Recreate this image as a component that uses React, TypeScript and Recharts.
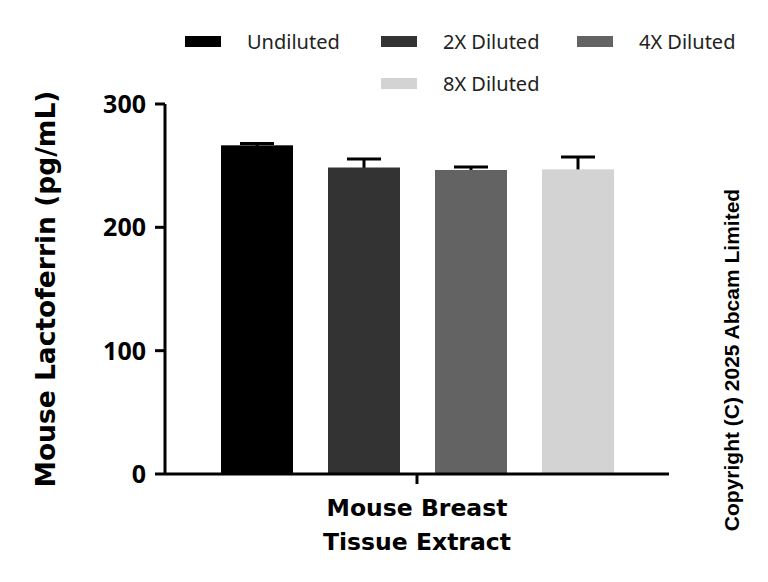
import { Bar, BarChart, XAxis, YAxis } from "recharts";

const categories = ["Mouse Breast Tissue Extract"];
const seriesNames = ["Undiluted", "2X Diluted", "4X Diluted", "8X Diluted"];
const seriesKeys = ["undiluted", "x2", "x4", "x8"];
const seriesColors = ["#000000", "#333333", "#636363", "#d3d3d3"];
const means = [266.5, 248.5, 246.5, 247];
const errors = [1.5, 7, 2.5, 10];
const yTicks = [0, 100, 200, 300];

const data = categories.map((name) => {
  const row: Record<string, string | number> = { name };
  seriesKeys.forEach((k, i) => {
    row[k] = means[i];
    row[k + "_err"] = errors[i];
  });
  return row;
});

const FONT = "'Noto Sans', sans-serif";
const BOLD = "'DejaVu Sans', sans-serif";

// bar plus an upward-only error bar, scaled from the bar's own height
function barWithError(key: string) {
  return (props: any) => {
    const { x, y, width, height, fill, payload, value } = props;
    const v = Array.isArray(value) ? value[1] - value[0] : value;
    const err = payload[key + "_err"];
    const top = y - (err * height) / v;
    const cx = x + width / 2;
    return (
      <g>
        <line x1={cx} x2={cx} y1={top} y2={y + 4} stroke="#000" strokeWidth={3} />
        <line x1={cx - 17} x2={cx + 17} y1={top} y2={top} stroke="#000" strokeWidth={3} />
        <rect x={x} y={y} width={width} height={height} fill={fill} />
      </g>
    );
  };
}

function XTick(props: any) {
  const { x, y, payload } = props;
  const words = String(payload.value).split(" ");
  const lines = [words.slice(0, 2).join(" "), words.slice(2).join(" ")];
  return (
    <text x={x} y={y} textAnchor="middle" fontFamily={BOLD} fontWeight="bold" fontSize={23.5} fill="#000">
      {lines.map((l, i) => (
        <tspan key={i} x={x} dy={i === 0 ? 30 : 34}>
          {l}
        </tspan>
      ))}
    </text>
  );
}

function ChartLegend() {
  return (
    <div
      style={{
        position: "absolute",
        left: 184,
        top: 20,
        width: 590,
        display: "flex",
        flexWrap: "wrap",
        justifyContent: "center",
      }}
    >
      {seriesNames.map((n, i) => (
        <div key={n} style={{ width: 196, height: 42, display: "flex", alignItems: "center" }}>
          <span style={{ width: 36, height: 11, background: seriesColors[i], display: "inline-block" }} />
          <span style={{ marginLeft: 26, fontFamily: FONT, fontSize: 20, color: "#222" }}>{n}</span>
        </div>
      ))}
    </div>
  );
}

export default function App() {
  return (
    <div style={{ position: "absolute", left: 0, top: 0, width: 768, height: 582, background: "#fff" }}>
      <BarChart
        width={768}
        height={582}
        data={data}
        margin={{ top: 104, right: 99, bottom: 78, left: 0 }}
        barSize={72}
        barGap={35}
      >
        <YAxis
          width={165}
          domain={[0, 300]}
          ticks={yTicks}
          interval={0}
          axisLine={{ stroke: "#000", strokeWidth: 3 }}
          tickLine={{ stroke: "#000", strokeWidth: 3 }}
          tickSize={10}
          tickMargin={9}
          tick={{ fontFamily: FONT, fontSize: 25, fontWeight: "bold", fill: "#000" }}
          label={{
            value: "Mouse Lactoferrin (pg/mL)",
            angle: -90,
            position: "insideLeft",
            offset: 46,
            style: { fontFamily: BOLD, fontSize: 26.5, fontWeight: "bold", fill: "#000", textAnchor: "middle" },
          }}
        />
        <XAxis
          dataKey="name"
          height={30}
          axisLine={{ stroke: "#000", strokeWidth: 3 }}
          tickLine={{ stroke: "#000", strokeWidth: 3 }}
          tickSize={10}
          tick={<XTick />}
          interval={0}
        />
        {seriesKeys.map((k, i) => (
          <Bar
            key={k}
            dataKey={k}
            name={seriesNames[i]}
            fill={seriesColors[i]}
            shape={barWithError(k)}
            isAnimationActive={false}
          />
        ))}
      </BarChart>
      <ChartLegend />
      <svg width={768} height={582} style={{ position: "absolute", left: 0, top: 0, pointerEvents: "none" }}>
        <text
          transform="translate(739 360) rotate(-90)"
          textAnchor="middle"
          fontFamily="'Liberation Sans', Arial, sans-serif"
          fontWeight="bold"
          fontSize={21}
          fill="#000"
        >
          Copyright (C) 2025 Abcam Limited
        </text>
      </svg>
    </div>
  );
}
